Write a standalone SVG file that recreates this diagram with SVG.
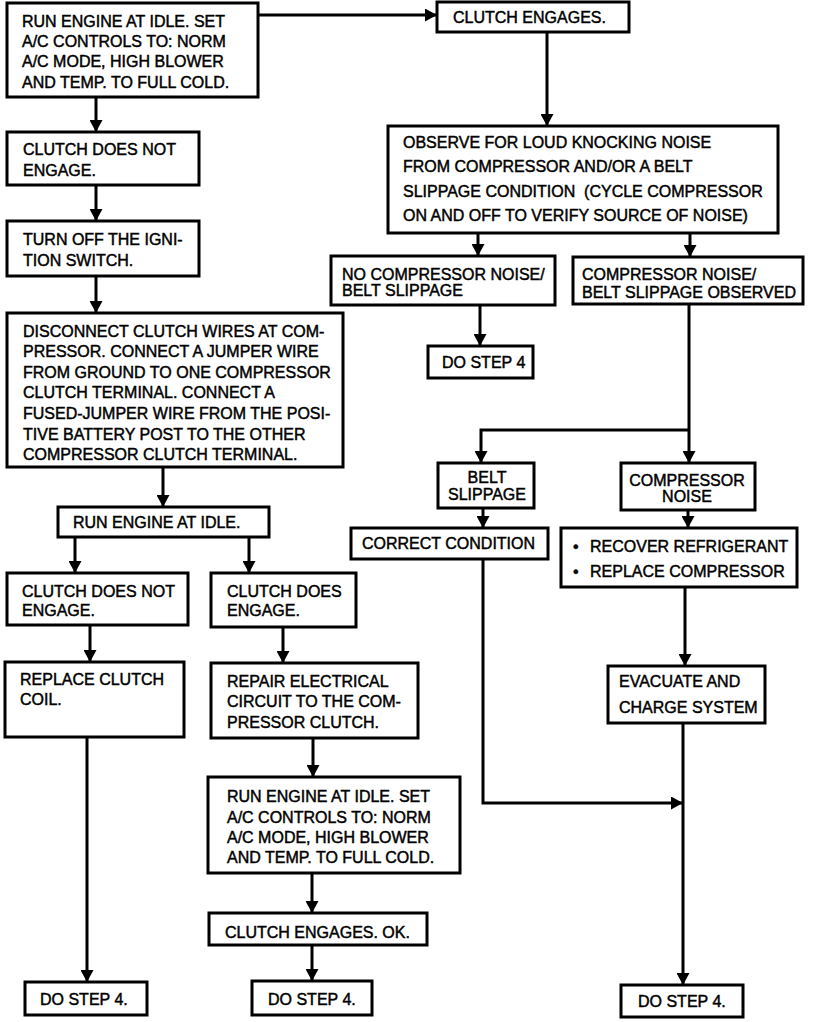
<svg xmlns="http://www.w3.org/2000/svg" width="816" height="1022" viewBox="0 0 816 1022">
<defs>
<marker id="ah" markerUnits="userSpaceOnUse" markerWidth="13" markerHeight="13" refX="12" refY="6.5" orient="auto">
<path d="M0,0 L12,6.5 L0,13 z" fill="#000"/>
</marker>
<style>
rect{fill:#fff;stroke:#000;stroke-width:3}
text{font-family:"Liberation Sans",Arial,sans-serif;font-size:16px;fill:#000;stroke:#000;stroke-width:0.45}
.c{text-anchor:middle}
#connectors path{fill:none;stroke:#000;stroke-width:3;marker-end:url(#ah)}
</style>
</defs>
<rect x="0" y="0" width="816" height="1022" style="fill:#fff;stroke:none"/>
<g id="connectors">
<path d="M258,15 H437"/>
<path d="M96,97 V132"/>
<path d="M96,185 V221"/>
<path d="M96,276 V313"/>
<path d="M163,467 V507"/>
<path d="M75,537 V573"/>
<path d="M249,537 V573"/>
<path d="M90,625 V662"/>
<path d="M283,627 V663"/>
<path d="M313,738 V777"/>
<path d="M312,873 V913"/>
<path d="M312,945 V981"/>
<path d="M87,737 V982"/>
<path d="M547,32 V126"/>
<path d="M478,233 V256"/>
<path d="M690,233 V257"/>
<path d="M480,305 V346"/>
<path d="M689,304 V463"/>
<path d="M689,430 H481 V463"/>
<path d="M483,508 V528"/>
<path d="M688,510 V528"/>
<path d="M483,559 V803 H683"/>
<path d="M685,587 V666"/>
<path d="M683,723 V985"/>
</g>
<g id="nA"><rect x="7" y="3" width="251" height="94"/>
<text x="22" y="27">RUN ENGINE AT IDLE. SET</text><text x="22" y="47">A/C CONTROLS TO: NORM</text><text x="22" y="67">A/C MODE, HIGH BLOWER</text><text x="22" y="88">AND TEMP. TO FULL COLD.</text></g>
<g id="nB"><rect x="437" y="2" width="192" height="30"/><text x="453" y="23">CLUTCH ENGAGES.</text></g>
<g id="nC"><rect x="388" y="126" width="390" height="107"/>
<text x="403" y="148">OBSERVE FOR LOUD KNOCKING NOISE</text><text x="403" y="172">FROM COMPRESSOR AND/OR A BELT</text><text x="403" y="197" xml:space="preserve">SLIPPAGE CONDITION  (CYCLE COMPRESSOR</text><text x="403" y="221">ON AND OFF TO VERIFY SOURCE OF NOISE)</text></g>
<g id="nD"><rect x="331" y="256" width="224" height="49"/><text x="342" y="280">NO COMPRESSOR NOISE/</text><text x="342" y="296">BELT SLIPPAGE</text></g>
<g id="nE"><rect x="573" y="257" width="230" height="47"/><text x="582" y="280">COMPRESSOR NOISE/</text><text x="582" y="298">BELT SLIPPAGE OBSERVED</text></g>
<g id="nF"><rect x="428" y="346" width="105" height="32"/><text x="442" y="368">DO STEP 4</text></g>
<g id="nG"><rect x="438" y="463" width="96" height="45"/><text class="c" x="487" y="483">BELT</text><text class="c" x="487" y="500">SLIPPAGE</text></g>
<g id="nH"><rect x="621" y="463" width="134" height="47"/><text class="c" x="687" y="486">COMPRESSOR</text><text class="c" x="687" y="502">NOISE</text></g>
<g id="nI"><rect x="351" y="528" width="197" height="31"/><text x="362" y="549">CORRECT CONDITION</text></g>
<g id="nJ"><rect x="561" y="528" width="236" height="59"/><text x="573" y="552">•</text><text x="590" y="552">RECOVER REFRIGERANT</text><text x="573" y="577">•</text><text x="590" y="577">REPLACE COMPRESSOR</text></g>
<g id="nK"><rect x="608" y="666" width="157" height="57"/><text x="619" y="687">EVACUATE AND</text><text x="619" y="713">CHARGE SYSTEM</text></g>
<g id="nL"><rect x="621" y="985" width="122" height="32"/><text x="638" y="1007">DO STEP 4.</text></g>
<g id="nM"><rect x="7" y="132" width="192" height="53"/><text x="23" y="155">CLUTCH DOES NOT</text><text x="23" y="176">ENGAGE.</text></g>
<g id="nN"><rect x="7" y="221" width="192" height="55"/><text x="23" y="245">TURN OFF THE IGNI-</text><text x="23" y="266">TION SWITCH.</text></g>
<g id="nO"><rect x="7" y="313" width="336" height="154"/>
<text x="23" y="337">DISCONNECT CLUTCH WIRES AT COM-</text><text x="23" y="357">PRESSOR. CONNECT A JUMPER WIRE</text><text x="23" y="378">FROM GROUND TO ONE COMPRESSOR</text><text x="23" y="398">CLUTCH TERMINAL. CONNECT A</text><text x="23" y="419">FUSED-JUMPER WIRE FROM THE POSI-</text><text x="23" y="440">TIVE BATTERY POST TO THE OTHER</text><text x="23" y="460">COMPRESSOR CLUTCH TERMINAL.</text></g>
<g id="nP"><rect x="58" y="507" width="211" height="30"/><text x="73" y="528">RUN ENGINE AT IDLE.</text></g>
<g id="nQ"><rect x="7" y="573" width="181" height="52"/><text x="22" y="597">CLUTCH DOES NOT</text><text x="22" y="616">ENGAGE.</text></g>
<g id="nR"><rect x="211" y="573" width="145" height="54"/><text x="227" y="597">CLUTCH DOES</text><text x="227" y="616">ENGAGE.</text></g>
<g id="nS"><rect x="5" y="662" width="179" height="75"/><text x="20" y="685">REPLACE CLUTCH</text><text x="20" y="705">COIL.</text></g>
<g id="nT"><rect x="211" y="663" width="207" height="75"/><text x="227" y="687">REPAIR ELECTRICAL</text><text x="227" y="707">CIRCUIT TO THE COM-</text><text x="227" y="728">PRESSOR CLUTCH.</text></g>
<g id="nU"><rect x="208" y="777" width="252" height="96"/>
<text x="227" y="802">RUN ENGINE AT IDLE. SET</text><text x="227" y="823">A/C CONTROLS TO: NORM</text><text x="227" y="843">A/C MODE, HIGH BLOWER</text><text x="227" y="863">AND TEMP. TO FULL COLD.</text></g>
<g id="nV"><rect x="209" y="913" width="218" height="32"/><text x="225" y="938">CLUTCH ENGAGES. OK.</text></g>
<g id="nW"><rect x="252" y="981" width="120" height="34"/><text x="268" y="1005">DO STEP 4.</text></g>
<g id="nX"><rect x="25" y="982" width="122" height="33"/><text x="40" y="1005">DO STEP 4.</text></g>
</svg>
